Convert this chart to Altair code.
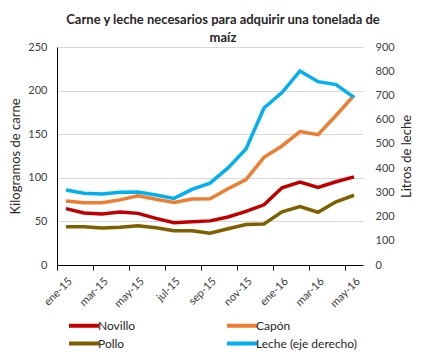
import altair as alt
import pandas as pd

tick_labels = ["ene-15", "mar-15", "may-15", "jul-15", "sep-15", "nov-15", "ene-16", "mar-16", "may-16"]
months = list(range(17))

novillo = [64.6, 59.6, 58.5, 60.8, 59.2, 53.5, 48.5, 49.7, 50.6, 55.0, 61.5, 69.0, 88.5, 95.0, 89.0, 95.5, 101.0]
capon = [73.4, 71.5, 71.5, 74.7, 79.5, 75.3, 71.8, 75.7, 76.0, 87.5, 98.0, 123.5, 136.5, 153.0, 149.5, 171.5, 194.5]
pollo = [44.0, 44.0, 42.4, 43.3, 45.1, 42.8, 39.4, 39.4, 36.5, 41.5, 46.5, 47.0, 61.0, 67.0, 60.5, 72.5, 80.0]
leche = [310, 296, 293, 300, 301, 289, 275, 312, 338, 401, 479, 648, 712, 801, 757, 745, 692]

# legend is laid out column by column: Novillo/Pollo in column 1, Capón/Leche in column 2
series_names = ["Novillo", "Pollo", "Capón", "Leche (eje derecho)"]
series_colors = ["#C00000", "#7F6000", "#ED7D31", "#00B0F0"]
series_values = [novillo, pollo, capon, leche]

rows = []
for name, vals in zip(series_names, series_values):
    for m, v in zip(months, vals):
        rows.append({"serie": name, "x": m + 0.5, "valor": v})
df = pd.DataFrame(rows)

label_expr = "[" + ",".join("'%s'" % t for t in tick_labels) + "][datum.value / 2]"

x_enc = alt.X(
    "x:Q",
    scale=alt.Scale(domain=[0, 17], nice=False, zero=False),
    axis=alt.Axis(
        values=[0, 2, 4, 6, 8, 10, 12, 14, 16],
        labelExpr=label_expr,
        labelAngle=-45,
        labelAlign="right",
        labelBaseline="top",
        labelOffset=9,
        labelPadding=5,
        grid=False,
        domainColor="#000000",
        tickColor="#000000",
        tickSize=5,
        labelFontSize=11,
        labelColor="#404040",
        title=None,
    ),
)

color_enc = alt.Color(
    "serie:N",
    scale=alt.Scale(domain=series_names, range=series_colors),
    legend=alt.Legend(
        title=None,
        orient="none",
        legendX=10,
        legendY=269,
        columns=2,
        gridAlign="all",
        columnPadding=20,
        rowPadding=-1,
        symbolType="M-1,0L3,0",
        symbolSize=225,
        symbolStrokeWidth=4,
        labelOffset=12,
        labelFontSize=12,
        labelColor="#262626",
    ),
)

base = alt.Chart(df)

left = base.transform_filter(alt.datum.serie != "Leche (eje derecho)").mark_line(strokeWidth=3.5).encode(
    x=x_enc,
    y=alt.Y(
        "valor:Q",
        scale=alt.Scale(domain=[0, 250], nice=False),
        axis=alt.Axis(
            values=[0, 50, 100, 150, 200, 250],
            grid=True,
            gridColor="#D9D9D9",
            domainColor="#000000",
            ticks=False,
            labelPadding=10,
            labelFontSize=11,
            labelColor="#404040",
            title="Kilogramos de carne",
            titleFontSize=13,
            titleFontWeight="normal",
            titleColor="#262626",
            titlePadding=5,
        ),
    ),
    color=color_enc,
)

right = base.transform_filter(alt.datum.serie == "Leche (eje derecho)").mark_line(strokeWidth=3.5).encode(
    x=x_enc,
    y=alt.Y(
        "valor:Q",
        scale=alt.Scale(domain=[0, 900], nice=False),
        axis=alt.Axis(
            orient="right",
            values=[0, 100, 200, 300, 400, 500, 600, 700, 800, 900],
            grid=False,
            domain=False,
            ticks=False,
            labelPadding=12,
            labelFontSize=11,
            labelColor="#404040",
            title="Litros de leche",
            titleAngle=270,
            titleBaseline="top",
            titleFontSize=13,
            titleFontWeight="normal",
            titleColor="#262626",
            titlePadding=6,
        ),
    ),
    color=color_enc,
)

chart = (
    alt.layer(left, right)
    .resolve_scale(y="independent")
    .properties(
        width=306,
        height=218,
        autosize=alt.AutoSizeParams(type="none"),
        padding={"left": 49, "top": 39, "right": 55, "bottom": 92},
        title=alt.TitleParams(
            text=["Carne y leche necesarios para adquirir una tonelada de", "maíz"],
            fontSize=13,
            fontWeight="bold",
            color="#262626",
            anchor="middle",
            dx=13,
            dy=10,
            offset=6,
            lineHeight=18,
        ),
    )
    .configure(font="Lato")
    .configure_view(stroke=None)
)

chart.save("out.html", embed_options={"renderer": "svg", "actions": False})
